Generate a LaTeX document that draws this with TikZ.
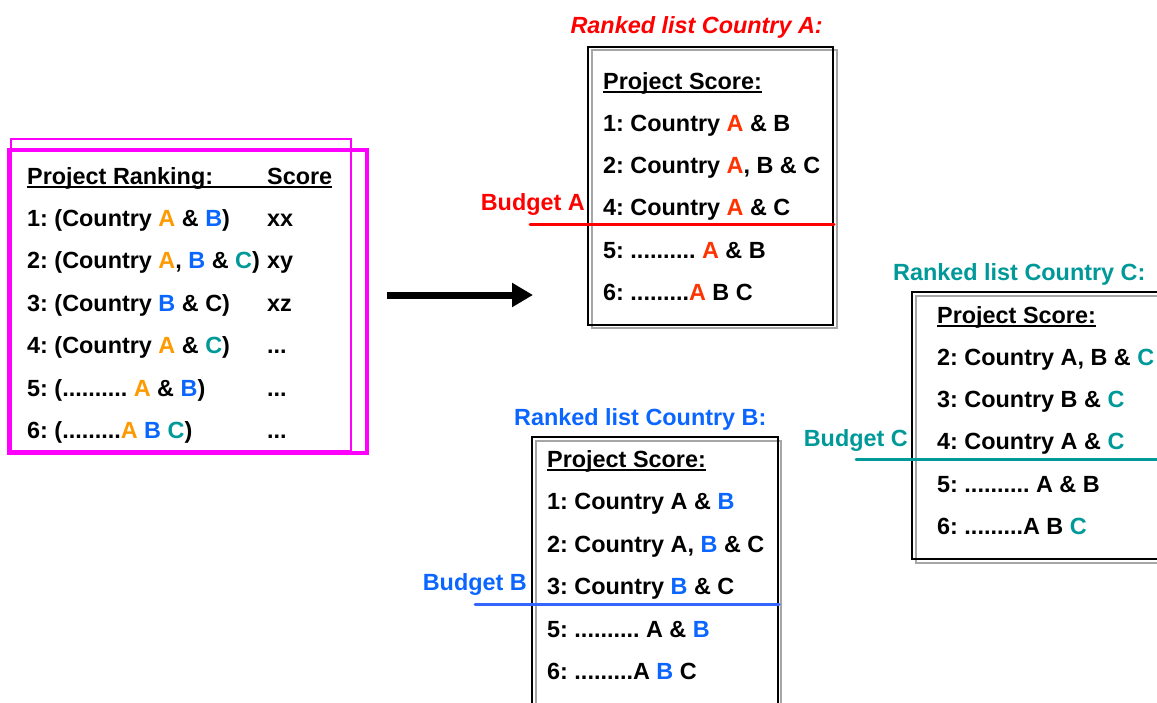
\documentclass[tikz,border=0pt]{standalone}
\usepackage{fontspec}
\setmainfont{Liberation Sans}
\usetikzlibrary{arrows.meta}
\definecolor{orangeA}{HTML}{FF9900}
\definecolor{redA}{HTML}{FF0000}
\definecolor{redAA}{HTML}{FF3300}
\definecolor{blueB}{HTML}{0A66FF}
\definecolor{lineB}{HTML}{3366FF}
\definecolor{tealC}{HTML}{009999}
\definecolor{magbox}{HTML}{FF00FF}
\newcommand{\oA}[1]{\textcolor{orangeA}{#1}}
\newcommand{\rA}[1]{\textcolor{redAA}{#1}}
\newcommand{\bB}[1]{\textcolor{blueB}{#1}}
\newcommand{\tC}[1]{\textcolor{tealC}{#1}}
\frenchspacing

\begin{document}
\begin{tikzpicture}[x=1pt,y=-1pt,
  txt/.style={anchor=base west,inner sep=0pt,font=\fontsize{23.4}{28}\selectfont\bfseries},
  budget/.style={anchor=base east,inner sep=0pt,font=\fontsize{23.4}{28}\selectfont\bfseries},
  shadowbox/.style={draw=gray!70,line width=1.6pt},
  listbox/.style={draw=black,line width=1.6pt},
  ul/.style={line width=1.6pt}]
\clip (0,0) rectangle (1157,702);
\fill[white] (0,0) rectangle (1157,702);

% common ranking
\draw[magbox,line width=2pt] (11,139) rectangle (351,451);
\draw[magbox,line width=4pt] (9,150) rectangle (367,453);
\node[txt] (hdr) at (27,184) {Project Ranking:};
\node[txt] (sc) at (267,184) {Score};
\draw[ul] ([yshift=-3pt]hdr.base west) -- ([yshift=-3pt]sc.base east);
\node[txt] (r1) at (27,226) {1: (Country \oA{A} \& \bB{B})};
\node[txt] (r2) at (27,268.5) {2: (Country \oA{A}, \bB{B} \& \tC{C})};
\node[txt] (r3) at (27,311) {3: (Country \bB{B} \& C)};
\node[txt] (r4) at (27,353.5) {4: (Country \oA{A} \& \tC{C})};
\node[txt] (r5) at (27,396) {5: (.......... \oA{A} \& \bB{B})};
\node[txt] (r6) at (27,438.5) {6: (.........\oA{A} \bB{B} \tC{C})};
\node[txt] (s1) at (267,226) {xx};
\node[txt] (s2) at (267,268.5) {xy};
\node[txt] (s3) at (267,311) {xz};
\node[txt] (s4) at (267,353.5) {...};
\node[txt] (s5) at (267,396) {...};
\node[txt] (s6) at (267,438.5) {...};

% arrow
\coordinate (arrfrom) at (387,295);
\coordinate (arrto) at (533,295);
\draw[line width=7pt,-{Triangle[length=21pt,width=23pt]}] (arrfrom) -- (arrto);

% country A
\node[txt,anchor=base east,font=\fontsize{23.4}{28}\selectfont\bfseries\itshape,text=redA] (tA) at (823,33.5) {Ranked list Country A:};
\draw[shadowbox] (592,50) rectangle (837,328);
\draw[listbox] (588,47) rectangle (833,325);
\node[txt] (ha) at (603,89) {Project Score:};
\draw[ul] ([yshift=-3pt]ha.base west) -- ([yshift=-3pt]ha.base east);
\node[txt] (a1) at (603,131.5) {1: Country \rA{A} \& B};
\node[txt] (a2) at (603,173) {2: Country \rA{A}, B \& C};
\node[txt] (a3) at (603,215) {4: Country \rA{A} \& C};
\node[txt] (a4) at (603,258) {5: .......... \rA{A} \& B};
\node[txt] (a5) at (603,300) {6: .........\rA{A} B C};
\node[budget,text=redA] (bA) at (585,210.5) {Budget A};
\coordinate (lA1) at (530,224.5);
\coordinate (lA2) at (834,224.5);
\draw[redA,line width=3pt,line cap=round] (lA1) -- (lA2);

% country B
\node[txt,text=blueB] (tB) at (514,425) {Ranked list Country B:};
\draw[shadowbox] (536,441) rectangle (781,720);
\draw[listbox] (532,437) rectangle (778,716);
\node[txt] (hb) at (547,467) {Project Score:};
\draw[ul] ([yshift=-3pt]hb.base west) -- ([yshift=-3pt]hb.base east);
\node[txt] (b1) at (547,509.5) {1: Country A \& \bB{B}};
\node[txt] (b2) at (547,552) {2: Country A, \bB{B} \& C};
\node[txt] (b3) at (547,594.5) {3: Country \bB{B} \& C};
\node[txt] (b4) at (547,637) {5: .......... A \& \bB{B}};
\node[txt] (b5) at (547,679.5) {6: .........A \bB{B} C};
\node[budget,text=blueB] (bB) at (527,590) {Budget B};
\coordinate (lB1) at (475,604);
\coordinate (lB2) at (779,604);
\draw[lineB,line width=3pt,line cap=round] (lB1) -- (lB2);

% country C
\node[txt,text=tealC] (tC) at (893,280) {Ranked list Country C:};
\draw[shadowbox] (916,296) rectangle (1170,563);
\draw[listbox] (912,292) rectangle (1166,559);
\node[txt] (hc) at (937,323) {Project Score:};
\draw[ul] ([yshift=-3pt]hc.base west) -- ([yshift=-3pt]hc.base east);
\node[txt] (c1) at (937,365) {2: Country A, B \& \tC{C}};
\node[txt] (c2) at (937,407) {3: Country B \& \tC{C}};
\node[txt] (c3) at (937,449.5) {4: Country A \& \tC{C}};
\node[txt] (c4) at (937,492) {5: .......... A \& B};
\node[txt] (c5) at (937,534.5) {6: .........A B \tC{C}};
\node[budget,text=tealC] (bC) at (908,446.5) {Budget C};
\coordinate (lC1) at (856,459);
\coordinate (lC2) at (1170,459);
\draw[tealC,line width=3pt,line cap=round] (lC1) -- (lC2);
\end{tikzpicture}
\end{document}
